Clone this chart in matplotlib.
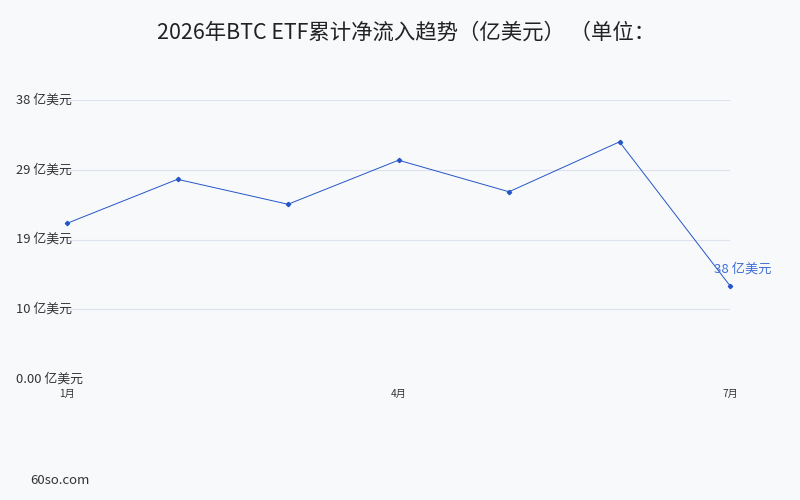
import matplotlib
matplotlib.use("Agg")
import matplotlib.pyplot as plt

plt.rcParams['font.family'] = ['Noto Sans CJK SC', 'DejaVu Sans']

# 数据（从图中读取，单位：亿美元）
months = [1, 2, 3, 4, 5, 6, 7]
values = [21.2, 27.2, 23.8, 29.8, 25.5, 32.3, 12.7]
tick_months = [1, 4, 7]
tick_labels = ['1月', '4月', '7月']
y_ticks = [0, 9.5, 19, 28.5, 38]
y_labels = ['0.00 亿美元', '10 亿美元', '19 亿美元', '29 亿美元', '38 亿美元']
last_label = '38 亿美元'

bg = '#f8f9fb'
line_color = '#2456c8'

fig = plt.figure(figsize=(8, 5), dpi=100, facecolor=bg)
ax = fig.add_axes([67 / 800, 1 - 379 / 500, (730 - 67) / 800, (379 - 100) / 500])
ax.set_facecolor(bg)

ax.plot(months, values, color=line_color, lw=0.7, marker='D', ms=2.2,
        clip_on=False, zorder=3)
ax.annotate(last_label, (months[-1], values[-1]), xytext=(9.5, 7),
            textcoords='offset points', ha='center', va='bottom',
            fontsize=9.5, color='#3f6fd8')

ax.set_xlim(1, 7)
ax.set_ylim(0, 38)
ax.set_yticks(y_ticks)
ax.set_yticklabels(y_labels, fontsize=9.3, color='#333333')
ax.set_xticks(tick_months)
ax.set_xticklabels(tick_labels, fontsize=7.3, color='#333333')
ax.tick_params(axis='y', length=0, pad=37)
ax.tick_params(axis='x', length=0, pad=7)
for lab in ax.get_yticklabels():
    lab.set_horizontalalignment('left')
    lab.set_verticalalignment('center')

ax.grid(axis='y', color='#dde3ee', lw=0.8)
for s in ax.spines.values():
    s.set_visible(False)

fig.text(0.508, 0.935, '2026年BTC ETF累计净流入趋势（亿美元） （单位：',
         ha='center', va='center', fontsize=15.4, color='#222222')
fig.text(30 / 800, 1 - 480 / 500, '60so.com', ha='left', va='center',
         fontsize=9.5, color='#333333')

fig.savefig('out.png', dpi=100, facecolor=bg)
